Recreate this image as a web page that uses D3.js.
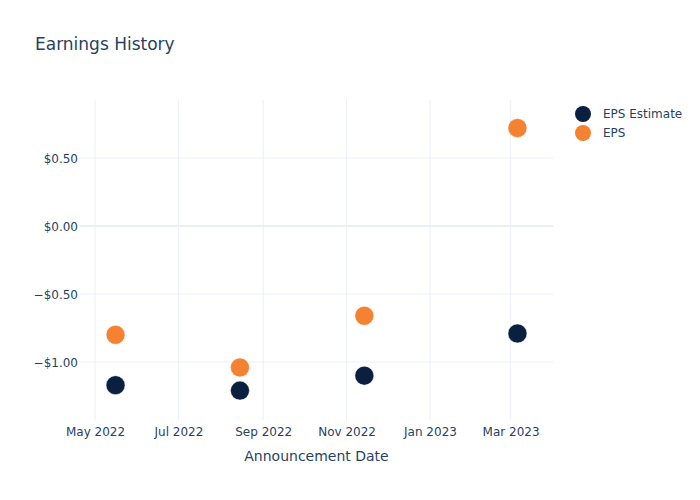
<!DOCTYPE html>
<html><head><meta charset="utf-8">
<script src="https://cdn.jsdelivr.net/npm/d3@7"></script>
<style>body{margin:0;background:#fff;} text{font-family:"DejaVu Sans",Verdana,sans-serif;}</style>
</head><body>
<svg id="c" width="700" height="500"></svg>
<script>
const dates = ["2022-05-16","2022-08-15","2022-11-14","2023-03-06"];
const epsEstimate = [-1.17, -1.21, -1.10, -0.79];
const eps = [-0.80, -1.04, -0.66, 0.72];
const yTicks = [-1.0, -0.5, 0, 0.5];
const xTickDates = ["2022-05-01","2022-07-01","2022-09-01","2022-11-01","2023-01-01","2023-03-01"];
const seriesNames = ["EPS Estimate","EPS"];
const colors = ["#0b1f40","#f58232"];

const parse = d3.utcParse("%Y-%m-%d");
const svg = d3.select("#c");
const L=80, R=553, T=100, B=420;
const x = d3.scaleUtc().domain([parse("2022-04-20"), parse("2023-04-01")]).range([L,R]);
const y = d3.scaleLinear().domain([-1.426, 0.926]).range([B,T]);
const txt = "#2a3f5f", grid = "#ebf0f8";

// grid
const g = svg.append("g");
g.selectAll(".vx").data(xTickDates.map(parse)).enter().append("line")
  .attr("x1",d=>x(d)).attr("x2",d=>x(d)).attr("y1",T).attr("y2",B)
  .attr("stroke",grid).attr("stroke-width",1);
g.selectAll(".hy").data(yTicks).enter().append("line")
  .attr("x1",L).attr("x2",R).attr("y1",d=>y(d)).attr("y2",d=>y(d))
  .attr("stroke",grid).attr("stroke-width",d=>d===0?2:1);

// axes
const fmtY = d => (d<0?"\u2212":"") + "$" + Math.abs(d).toFixed(2);
const ya = svg.append("g").attr("transform",`translate(${L},0)`)
  .call(d3.axisLeft(y).tickValues(yTicks).tickFormat(fmtY).tickSize(0).tickPadding(2));
ya.select(".domain").remove();
ya.selectAll("text").attr("fill",txt).attr("font-size",12).attr("dy","0.35em");

const xa = svg.append("g").attr("transform",`translate(0,${B})`)
  .call(d3.axisBottom(x).tickValues(xTickDates.map(parse)).tickFormat(d3.utcFormat("%b %Y")).tickSize(0).tickPadding(7));
xa.select(".domain").remove();
xa.selectAll("text").attr("fill",txt).attr("font-size",12).attr("dy","0.71em");

// points
[epsEstimate, eps].forEach((vals,i)=>{
  svg.append("g").selectAll("circle").data(vals).enter().append("circle")
    .attr("cx",(d,j)=>x(parse(dates[j]))).attr("cy",d=>y(d)).attr("r",9.5)
    .attr("fill",colors[i]).attr("stroke","#fff").attr("stroke-width",0.5);
});

// title
svg.append("text").attr("x",35).attr("y",50).text("Earnings History")
  .attr("fill",txt).attr("font-size",17);
svg.append("text").attr("x",(L+R)/2).attr("y",461).attr("text-anchor","middle")
  .text("Announcement Date").attr("fill",txt).attr("font-size",14);

// legend
const lg = svg.append("g");
seriesNames.forEach((n,i)=>{
  lg.append("circle").attr("cx",583).attr("cy",114+i*19).attr("r",8).attr("fill",colors[i]);
  lg.append("text").attr("x",603).attr("y",114+i*19).attr("dy","0.35em").text(n)
    .attr("fill",txt).attr("font-size",12);
});
</script>
</body></html>
